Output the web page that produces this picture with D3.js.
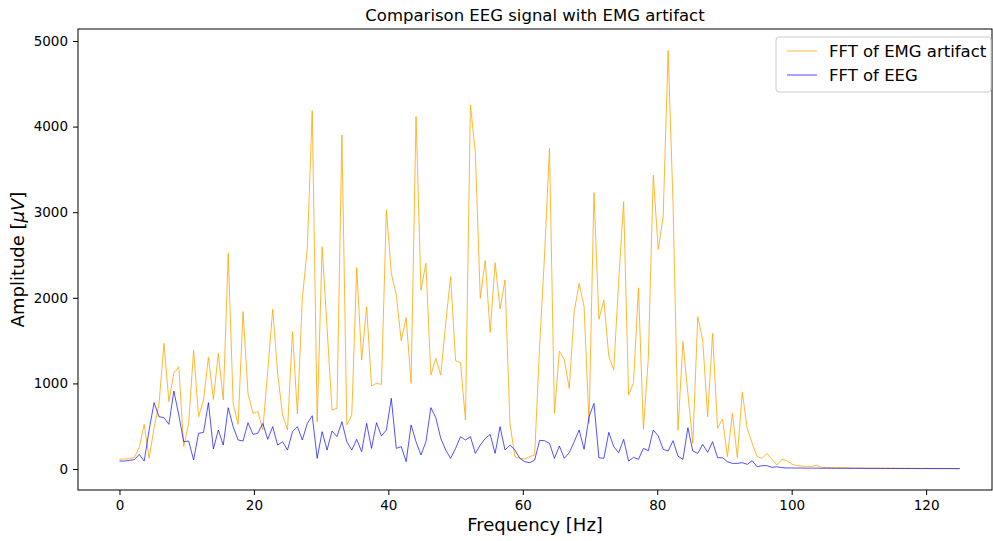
<!DOCTYPE html>
<html>
<head>
<meta charset="utf-8">
<script src="https://cdn.jsdelivr.net/npm/d3@7"></script>
<style>
  body { margin: 0; background: #fff; }
  text { font-family: "DejaVu Sans", sans-serif; fill: #000; }
</style>
</head>
<body>
<div id="chart"></div>
<script>
// FFT amplitudes (171 bins, 0..125 Hz)
var emgAmp = [
  113, 117, 121, 135, 253, 522, 125, 480, 760, 1468,
  786, 1118, 1195, 261, 534, 1390, 611, 806, 1305, 814,
  1351, 806, 2520, 767, 522, 1838, 884, 650, 670, 456,
  1150, 1865, 1118, 631, 456, 1604, 643, 1994, 2578, 4186,
  553, 2597, 1650, 689, 709, 3902, 514, 631, 2352, 1273,
  1896, 970, 1001, 989, 3026, 2286, 2033, 1499, 1768, 1001,
  4116, 2091, 2403, 1098, 1293, 1098, 1702, 2247, 1266, 1242,
  572, 4252, 3700, 1994, 2434, 1597, 2410, 1869, 2208, 533,
  144, 125, 117, 144, 164, 1429, 2500, 3746, 650, 1379,
  1273, 942, 1838, 2169, 1896, 533, 3228, 1748, 1974, 1320,
  1157, 2200, 3123, 864, 1008, 2118, 463, 1300, 3435, 2566,
  2948, 4890, 3100, 455, 1488, 880, 300, 1780, 1507, 611,
  1585, 475, 584, 144, 650, 136, 896, 475, 300, 144,
  125, 183, 113, 47, 113, 97, 58, 39, 35, 31,
  31, 45, 19, 18, 16, 15, 17, 14, 13, 12,
  13, 11, 10, 11, 10, 9, 10, 9, 8, 9,
  8, 8, 7, 8, 7, 7, 6, 7, 6, 6,
  5
];

var eegAmp = [
  93, 93, 101, 109, 171, 93, 456, 775, 611, 600,
  522, 911, 631, 319, 327, 105, 417, 428, 775, 234,
  456, 280, 716, 494, 339, 327, 541, 405, 417, 533,
  347, 495, 280, 319, 222, 436, 495, 339, 533, 623,
  125, 436, 222, 444, 378, 553, 319, 222, 347, 202,
  533, 241, 541, 386, 456, 826, 241, 261, 86, 514,
  319, 164, 319, 717, 600, 358, 222, 125, 241, 378,
  339, 378, 183, 280, 358, 405, 183, 495, 222, 280,
  222, 125, 86, 74, 105, 335, 331, 300, 125, 269,
  125, 191, 319, 456, 230, 611, 767, 132, 125, 429,
  261, 191, 347, 93, 136, 113, 241, 214, 456, 386,
  230, 210, 331, 150, 113, 483, 210, 183, 288, 195,
  319, 132, 132, 86, 66, 66, 74, 55, 97, 27,
  39, 39, 19, 27, 16, 12, 13, 11, 12, 10,
  11, 10, 9, 10, 9, 9, 8, 9, 8, 8,
  8, 7, 8, 7, 7, 7, 6, 7, 6, 6,
  6, 6, 5, 6, 5, 5, 5, 5, 5, 4,
  4
];

var freqStep = 125 / 170;   // Hz per FFT bin
var freqs = emgAmp.map(function(d, i) { return i * freqStep; });

var xTicks = [0, 20, 40, 60, 80, 100, 120];
var yTicks = [0, 1000, 2000, 3000, 4000, 5000];
var seriesNames = ["FFT of EMG artifact", "FFT of EEG"];
var seriesColors = ["orange", "blue"];

var W = 993, H = 541;
var margin = { top: 29, right: 1, bottom: 51, left: 78 };
var width = W - margin.left - margin.right;
var height = H - margin.top - margin.bottom;

var svg = d3.select("#chart")
            .append("svg")
            .attr("width", W)
            .attr("height", H);

var g = svg.append("g")
           .attr("transform", "translate(" + margin.left + "," + margin.top + ")");

var xScale = d3.scaleLinear().domain([-6.17, 129.8]).range([0, width]);
var yScale = d3.scaleLinear().domain([-245, 5140]).range([height, 0]);

// linhas
var line = d3.line()
             .x(function(d) { return xScale(d[0]); })
             .y(function(d) { return yScale(d[1]); });

g.append("path")
 .datum(freqs.map(function(f, i) { return [f, emgAmp[i]]; }))
 .attr("d", line)
 .attr("fill", "none")
 .attr("stroke", seriesColors[0])
 .attr("stroke-width", 0.8)
 .attr("stroke-linejoin", "round");

g.append("path")
 .datum(freqs.map(function(f, i) { return [f, eegAmp[i]]; }))
 .attr("d", line)
 .attr("fill", "none")
 .attr("stroke", seriesColors[1])
 .attr("stroke-opacity", 0.9)
 .attr("stroke-width", 0.75)
 .attr("stroke-linejoin", "round");

// eixos
var xAxis = g.append("g")
             .attr("transform", "translate(0," + height + ")")
             .call(d3.axisBottom(xScale).tickValues(xTicks).tickSize(5).tickPadding(5));
var yAxis = g.append("g")
             .call(d3.axisLeft(yScale).tickValues(yTicks).tickFormat(d3.format("d")).tickSize(5).tickPadding(5));

[xAxis, yAxis].forEach(function(a) {
  a.select(".domain").remove();
  a.selectAll("line").attr("stroke", "#000").attr("stroke-width", 1);
  a.selectAll("text").style("font-size", "13.5px").style("font-family", "DejaVu Sans");
});

// frame
g.append("rect")
 .attr("x", 0).attr("y", 0)
 .attr("width", width).attr("height", height)
 .attr("fill", "none")
 .attr("stroke", "#000")
 .attr("stroke-width", 1);

// titles
svg.append("text")
   .attr("x", margin.left + width / 2)
   .attr("y", 21)
   .attr("text-anchor", "middle")
   .style("font-size", "16.5px")
   .text("Comparison EEG signal with EMG artifact");

svg.append("text")
   .attr("x", margin.left + width / 2)
   .attr("y", 531)
   .attr("text-anchor", "middle")
   .style("font-size", "18px")
   .text("Frequency [Hz]");

var yl = svg.append("text")
   .attr("transform", "translate(24," + (margin.top + height / 2) + ") rotate(-90)")
   .attr("text-anchor", "middle")
   .style("font-size", "18px");
yl.append("tspan").text("Amplitude [");
yl.append("tspan").style("font-style", "italic").text("μV");
yl.append("tspan").text("]");

// legend
var lg = svg.append("g").attr("transform", "translate(776,37)");
lg.append("rect")
  .attr("width", 215).attr("height", 55)
  .attr("rx", 3)
  .attr("fill", "#fff").attr("fill-opacity", 0.8)
  .attr("stroke", "#ccc");
seriesNames.forEach(function(name, i) {
  var yy = 14 + i * 24;
  lg.append("line")
    .attr("x1", 11).attr("x2", 41)
    .attr("y1", yy).attr("y2", yy)
    .attr("stroke", seriesColors[i])
    .attr("stroke-opacity", i === 1 ? 0.9 : 1)
    .attr("stroke-width", 0.8);
  lg.append("text")
    .attr("x", 53).attr("y", yy + 6)
    .style("font-size", "16.5px")
    .text(name);
});
</script>
</body>
</html>
